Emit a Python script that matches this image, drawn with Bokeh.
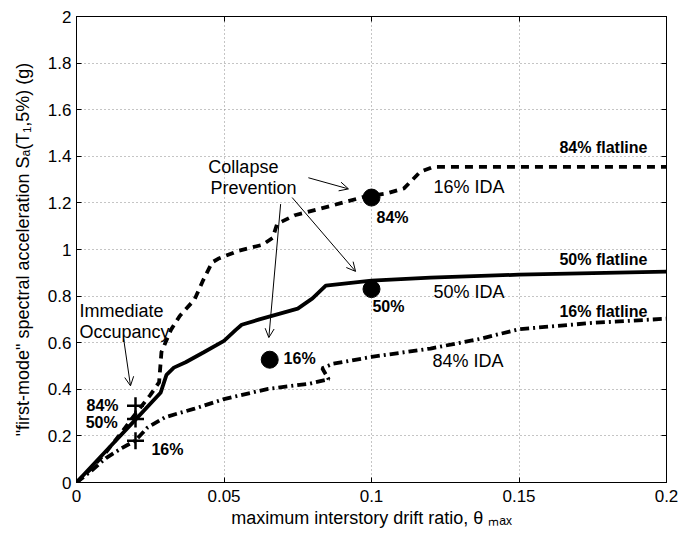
from bokeh.plotting import figure
from bokeh.models import LinearAxis, FixedTicker, Arrow, OpenHead, ColumnDataSource, Range1d
from bokeh.core.properties import value
from bokeh.embed import file_html
from bokeh.resources import INLINE

FONT = "Liberation Sans"

# ---- data ----
x_ticks = [0, 0.05, 0.1, 0.15, 0.2]
x_tick_labels = ["0", "0.05", "0.1", "0.15", "0.2"]
y_ticks = [0, 0.2, 0.4, 0.6, 0.8, 1.0, 1.2, 1.4, 1.6, 1.8, 2.0]
y_tick_labels = ["0", "0.2", "0.4", "0.6", "0.8", "1", "1.2", "1.4", "1.6", "1.8", "2"]

# 84% flatline (labelled "16% IDA"), dashed
x84 = [0, 0.005, 0.010, 0.015, 0.020, 0.025, 0.028, 0.0288, 0.032, 0.035, 0.040, 0.043, 0.046,
       0.048, 0.055, 0.063, 0.0665, 0.068, 0.074, 0.087, 0.0975, 0.105, 0.111, 0.1165, 0.121, 0.200]
y84 = [0, 0.06, 0.13, 0.21, 0.295, 0.375, 0.43, 0.56, 0.655, 0.715, 0.785, 0.87, 0.945,
       0.96, 0.995, 1.02, 1.05, 1.11, 1.147, 1.19, 1.226, 1.24, 1.262, 1.333, 1.355, 1.355]

# 50% flatline (labelled "50% IDA"), solid
x50 = [0, 0.01, 0.02, 0.0285, 0.0305, 0.033, 0.037, 0.043, 0.050, 0.054, 0.056, 0.062,
       0.075, 0.080, 0.0845, 0.100, 0.120, 0.150, 0.200]
y50 = [0, 0.135, 0.27, 0.385, 0.462, 0.493, 0.516, 0.558, 0.608, 0.655, 0.677, 0.70,
       0.746, 0.79, 0.845, 0.866, 0.879, 0.892, 0.905]

# 16% flatline (labelled "84% IDA"), dash-dot
x16 = [0, 0.005, 0.010, 0.015, 0.020, 0.024, 0.030, 0.040, 0.050, 0.065, 0.079, 0.0855,
       0.0833, 0.087, 0.100, 0.115, 0.120, 0.137, 0.150, 0.175, 0.200]
y16 = [0, 0.05, 0.105, 0.145, 0.18, 0.235, 0.28, 0.317, 0.358, 0.402, 0.424, 0.443,
       0.49, 0.51, 0.539, 0.566, 0.575, 0.617, 0.658, 0.685, 0.703]

# Immediate Occupancy points (+)
io_x = [0.02, 0.02, 0.02]
io_y = [0.329, 0.272, 0.179]
io_labels = ["84%", "50%", "16%"]

# Collapse Prevention points (circles)
cp_x = [0.0655, 0.1, 0.1]
cp_y = [0.527, 0.83, 1.223]
cp_labels = ["16%", "50%", "84%"]

flat_labels = ["84% flatline", "50% flatline", "16% flatline"]
ida_labels = ["16% IDA", "50% IDA", "84% IDA"]

# ---- figure ----
p = figure(width=680, height=537, x_range=Range1d(0, 0.2), y_range=Range1d(0, 2),
           output_backend="svg", toolbar_location=None,
           min_border_left=76, min_border_right=14, min_border_top=16, min_border_bottom=55)
p.outline_line_color = "black"
p.outline_line_width = 1
p.background_fill_color = "white"
p.border_fill_color = "white"

for ax, ticks, labels in ((p.xaxis[0], x_ticks, x_tick_labels), (p.yaxis[0], y_ticks, y_tick_labels)):
    ax.ticker = FixedTicker(ticks=ticks)
    ax.major_label_overrides = {t: l for t, l in zip(ticks, labels)}
    ax.major_tick_in = 5
    ax.major_tick_out = 0
    ax.minor_tick_line_color = None
    ax.axis_line_color = "black"
    ax.major_tick_line_color = "black"
    ax.major_label_text_font = FONT
    ax.major_label_text_font_size = "17px"
    ax.major_label_text_color = "black"
    ax.axis_label_text_font = FONT
    ax.axis_label_text_font_size = "18px"
    ax.axis_label_text_font_style = "normal"
    ax.axis_label_text_color = "black"

p.xaxis.major_label_standoff = 7
p.xaxis.axis_label = "maximum interstory drift ratio, \u03b8 \u2098\u2090\u2093"
p.xaxis.axis_label_standoff = 3
p.yaxis.major_label_standoff = 5
p.yaxis.axis_label = "\"first-mode\" spectral acceleration S\u2090(T\u2081,5%) (g)"
p.yaxis.axis_label_standoff = 12

for loc, ticks in (("above", x_ticks), ("right", y_ticks)):
    ax = LinearAxis(ticker=FixedTicker(ticks=ticks), major_label_text_font_size="1px",
                    major_label_text_color=None,
                    major_label_standoff=0, major_tick_in=5, major_tick_out=0,
                    minor_tick_line_color=None, axis_line_color="black",
                    major_tick_line_color="black")
    p.add_layout(ax, loc)

p.xgrid.ticker = FixedTicker(ticks=x_ticks)
p.ygrid.ticker = FixedTicker(ticks=y_ticks)
for g in (p.xgrid[0], p.ygrid[0]):
    g.grid_line_color = "#8a8a8a"
    g.grid_line_dash = "1 3"
    g.grid_line_width = 1

# ---- curves ----
p.line(x84, y84, line_color="black", line_width=3.8, line_dash="8 6")
p.line(x50, y50, line_color="black", line_width=3.8)
p.line(x16, y16, line_color="black", line_width=3.8, line_dash="9 4 2 4")

p.scatter(io_x, io_y, marker="cross", size=17, line_color="black", line_width=2.5)
p.scatter(cp_x, cp_y, marker="circle", size=17, fill_color="black", line_color="black")

# ---- texts ----
def txt(x, y, s, size, bold=False, align="left"):
    src = ColumnDataSource(dict(x=x, y=y, t=s))
    p.text("x", "y", "t", source=src, text_font=value(FONT), text_font_size=size,
           text_font_style="bold" if bold else "normal", text_align=align,
           text_baseline="middle", text_color="black")

txt([0.0034, 0.0031, 0.0254], [0.332, 0.2575, 0.1425], io_labels, "16px", True)
txt([0.0702, 0.1003, 0.1017], [0.533, 0.754, 1.136], cp_labels, "16px", True)
txt([0.1637, 0.1637, 0.1637], [1.436, 0.956, 0.733], flat_labels, "16px", True)
txt([0.121, 0.121, 0.1207], [1.267, 0.816, 0.522], ida_labels, "18px")
txt([0.0447, 0.0454, 0.001, 0.001], [1.355, 1.263, 0.737, 0.647],
    ["Collapse", "Prevention", "Immediate", "Occupancy"], "18px")

# ---- arrows ----
arrows = [
    (0.0786, 1.308, 0.0922, 1.26),
    (0.0731, 1.223, 0.0946, 0.906),
    (0.0692, 1.195, 0.0652, 0.622),
    (0.0160, 0.615, 0.0183, 0.415),
]
for xs, ys, xe, ye in arrows:
    p.add_layout(Arrow(x_start=xs, y_start=ys, x_end=xe, y_end=ye, line_width=1, line_color="black",
                       end=OpenHead(size=9, line_width=1, line_color="black")))

open("out.html", "w").write(file_html(p, INLINE))
